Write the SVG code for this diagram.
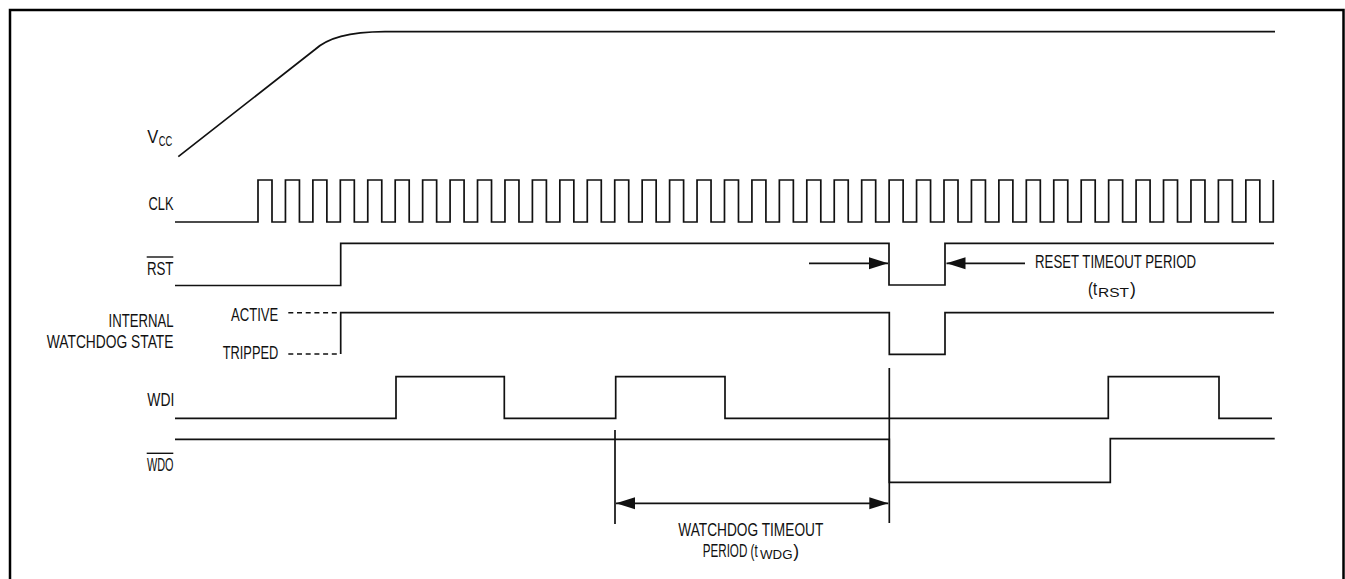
<svg xmlns="http://www.w3.org/2000/svg" width="1345" height="579" viewBox="0 0 1345 579">
<style>
.w{fill:none;stroke:#111;stroke-width:1.7;stroke-linejoin:miter;stroke-linecap:butt}
.d{fill:none;stroke:#111;stroke-width:1.5;stroke-dasharray:5 3.7}
text{font-family:"Liberation Sans",Arial,sans-serif;font-size:17.5px;fill:#111}
.s{font-size:12.5px}
.v{font-size:14px}
</style>
<defs>
<marker id="ah" markerUnits="userSpaceOnUse" markerWidth="20" markerHeight="14" refX="19" refY="6" orient="auto-start-reverse" viewBox="0 0 20 12">
<path d="M0,0 L19,6 L0,12 Z" fill="#111"/>
</marker>
</defs>
<rect x="10" y="10" width="1333.5" height="620" fill="none" stroke="#000" stroke-width="2.5"/>
<g id="vcc">
<text x="147.3" y="143" textLength="11" lengthAdjust="spacingAndGlyphs">V</text>
<text class="v" x="158.8" y="146" textLength="13.5" lengthAdjust="spacingAndGlyphs">CC</text>
<path class="w" d="M178.3,156.7 L315,49.5 C328,38 348,32 385,31.7 L1275,31.7"/>
</g>
<g id="clk">
<text x="173.5" y="210" text-anchor="end" textLength="25" lengthAdjust="spacingAndGlyphs">CLK</text>
<path class="w" d="M175,222 H258
v-42 h14 v42 h13.44 v-42 h14 v42 h13.44 v-42 h14 v42 h13.44 v-42 h14 v42 h13.44 v-42 h14 v42 h13.44
v-42 h14 v42 h13.44 v-42 h14 v42 h13.44 v-42 h14 v42 h13.44 v-42 h14 v42 h13.44 v-42 h14 v42 h13.44
v-42 h14 v42 h13.44 v-42 h14 v42 h13.44 v-42 h14 v42 h13.44 v-42 h14 v42 h13.44 v-42 h14 v42 h13.44
v-42 h14 v42 h13.44 v-42 h14 v42 h13.44 v-42 h14 v42 h13.44 v-42 h14 v42 h13.44 v-42 h14 v42 h13.44
v-42 h14 v42 h13.44 v-42 h14 v42 h13.44 v-42 h14 v42 h13.44 v-42 h14 v42 h13.44 v-42 h14 v42 h13.44
v-42 h14 v42 h13.44 v-42 h14 v42 h13.44 v-42 h14 v42 h13.44 v-42 h14 v42 h13.44 v-42 h14 v42 h13.44
v-42 h14 v42 h13.44 v-42 h14 v42 h13.44 v-42 h14 v42 h13.44 v-42 h14 v42 h13.44 v-42 h14 v42 h13.44
v-42 h14 v42 h13.44 v-42 h14 v42 h13.44
v-42"/>
</g>
<g id="rst">
<text x="173.5" y="275" text-anchor="end" textLength="26.6" lengthAdjust="spacingAndGlyphs">RST</text>
<line x1="146.7" y1="257" x2="173.3" y2="257" stroke="#111" stroke-width="1.4"/>
<path class="w" d="M175,285.5 H340.7 V243.3 H889 V285 H945 V243.3 H1274"/>
</g>
<g id="wdstate">
<text x="173.5" y="326.7" text-anchor="end" textLength="65" lengthAdjust="spacingAndGlyphs">INTERNAL</text>
<text x="173.5" y="347.7" text-anchor="end" textLength="126.7" lengthAdjust="spacingAndGlyphs">WATCHDOG STATE</text>
<text x="278.3" y="321" text-anchor="end" textLength="47.3" lengthAdjust="spacingAndGlyphs">ACTIVE</text>
<text x="278.3" y="359.3" text-anchor="end" textLength="55.6" lengthAdjust="spacingAndGlyphs">TRIPPED</text>
<line class="d" x1="288.3" y1="312.7" x2="340" y2="312.7"/>
<line class="d" x1="288.3" y1="354" x2="340" y2="354"/>
<path class="w" d="M340.7,354 V312.7 H889.3 V354.3 H945 V312.7 H1274"/>
</g>
<g id="wdi">
<text x="174.3" y="405.7" text-anchor="end" textLength="27" lengthAdjust="spacingAndGlyphs">WDI</text>
<path class="w" d="M175,418.3 H396 V376.7 H504.3 V418.3 H615.7 V376.7 H725 V418.3 H1108.3 V376.7 H1219 V418.3 H1272"/>
</g>
<g id="wdo">
<text x="173.5" y="471" text-anchor="end" textLength="26.6" lengthAdjust="spacingAndGlyphs">WDO</text>
<line x1="146.7" y1="453.3" x2="173.3" y2="453.3" stroke="#111" stroke-width="1.4"/>
<path class="w" d="M175,439.3 H889.3 V482.3 H1110.3 V438.7 H1274.7"/>
</g>
<g id="annotations">
<text x="1035" y="268" textLength="161" lengthAdjust="spacingAndGlyphs">RESET TIMEOUT PERIOD</text>
<text x="1088" y="295" textLength="9" lengthAdjust="spacingAndGlyphs">(t</text>
<text class="s" x="1098" y="297" textLength="31" lengthAdjust="spacingAndGlyphs">RST</text>
<text x="1130" y="295">)</text>
<text x="678.3" y="536" textLength="145" lengthAdjust="spacingAndGlyphs">WATCHDOG TIMEOUT</text>
<text x="702.7" y="556.5" textLength="55" lengthAdjust="spacingAndGlyphs">PERIOD (t</text>
<text class="s" x="760" y="558.5" textLength="32.5" lengthAdjust="spacingAndGlyphs">WDG</text>
<text x="793.3" y="556.5">)</text>
</g>
<g id="connectors">
<line class="w" x1="809" y1="263.3" x2="888" y2="263.3" marker-end="url(#ah)"/>
<line class="w" x1="1025" y1="263.3" x2="946.5" y2="263.3" marker-end="url(#ah)"/>
<line class="w" x1="615" y1="430" x2="615" y2="524"/>
<line class="w" x1="889.3" y1="368" x2="889.3" y2="523"/>
<line class="w" x1="616" y1="503.3" x2="888.3" y2="503.3" marker-start="url(#ah)" marker-end="url(#ah)"/>
</g>
</svg>
